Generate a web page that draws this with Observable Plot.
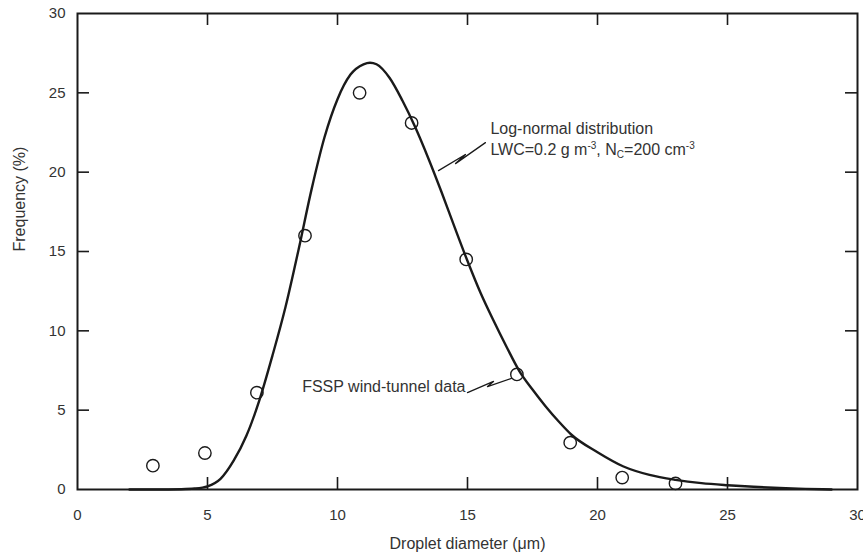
<!DOCTYPE html>
<html>
<head>
<meta charset="utf-8">
<script src="https://cdn.jsdelivr.net/npm/d3@7"></script>
<script src="https://cdn.jsdelivr.net/npm/@observablehq/plot@0.6"></script>
<style>
  html, body { margin: 0; padding: 0; background: #fff; }
  #chart svg { display: block; }
</style>
</head>
<body>
<div id="chart"></div>
<script>
// FSSP wind-tunnel data (circles)
const dataDiameter = [2.9, 4.9, 6.9, 8.75, 10.85, 12.85, 14.95, 16.9, 18.95, 20.95, 23.0];
const dataFrequency = [1.5, 2.3, 6.1, 16.0, 25.0, 23.1, 14.5, 7.25, 2.95, 0.75, 0.38];

// Log-normal distribution curve
const curveDiameter = [2, 3, 4, 4.5, 5, 5.5, 6, 6.5, 7, 7.5, 8, 8.5, 9, 9.5, 10, 10.5, 11, 11.25, 11.5, 12, 12.5, 13, 13.5, 14, 14.5, 15, 15.5, 16, 16.5, 17, 17.5, 18, 18.5, 19, 20, 21, 22, 23, 24, 25, 26, 27, 28, 29];
const curveFrequency = [0, 0, 0.02, 0.06, 0.2, 0.67, 1.8, 3.4, 5.65, 8.45, 11.5, 15.1, 18.9, 22.2, 24.6, 26.15, 26.8, 26.9, 26.8, 25.95, 24.5, 22.8, 20.85, 18.75, 16.55, 14.4, 12.4, 10.65, 9.0, 7.45, 6.3, 5.25, 4.3, 3.45, 2.35, 1.45, 0.92, 0.61, 0.4, 0.27, 0.17, 0.09, 0.04, 0.0];

// Axis ticks
const tickLabels = [0, 5, 10, 15, 20, 25, 30];
const innerTicks = [5, 10, 15, 20, 25];

// Annotations
const lognormLabel1 = "Log-normal distribution";
const lognormLabel2 = "LWC=0.2 g m-3, NC=200 cm-3";
const lognormAnchor = [15.88, 22.73, 21.41]; // x, y line 1, y line 2
const lognormLeaderX = [13.885, 14.92, 14.54, 15.69];
const lognormLeaderY = [20.10, 21.11, 20.54, 21.86];
const fsspLabel = "FSSP wind-tunnel data";
const fsspAnchor = [8.64, 6.49];
const fsspLeaderX = [15.0, 16.0, 15.77, 16.69];
const fsspLeaderY = [6.11, 6.81, 6.49, 7.0];

const xLabel = "Droplet diameter (μm)";
const yLabel = "Frequency (%)";

const points = dataDiameter.map((d, i) => ({x: d, y: dataFrequency[i]}));
const curve = curveDiameter.map((d, i) => ({x: d, y: curveFrequency[i]}));
const lognormLeader = lognormLeaderX.map((d, i) => ({x: d, y: lognormLeaderY[i]}));
const fsspLeader = fsspLeaderX.map((d, i) => ({x: d, y: fsspLeaderY[i]}));

const W = 863, H = 560;
const mL = 77, mR = 6, mT = 13, mB = 71;
const innerW = W - mL - mR, innerH = H - mT - mB;
const tickLen = 12;
const ink = "#1a1a1a";
const textInk = "#333";
const font = "'Liberation Sans', Arial, sans-serif";

const chart = Plot.plot({
  width: W,
  height: H,
  marginLeft: mL,
  marginRight: mR,
  marginTop: mT,
  marginBottom: mB,
  style: {fontFamily: font, fontSize: "15px", color: textInk, background: "#fff"},
  x: {domain: [0, 30]},
  y: {domain: [0, 30]},
  marks: [
    // inward ticks on all four sides
    Plot.ruleX(innerTicks, {x: d => d, insetTop: innerH - tickLen, stroke: ink, strokeWidth: 1.6}),
    Plot.ruleX(innerTicks, {x: d => d, insetBottom: innerH - tickLen, stroke: ink, strokeWidth: 1.6}),
    Plot.ruleY(innerTicks, {y: d => d, insetRight: innerW - tickLen, stroke: ink, strokeWidth: 1.6}),
    Plot.ruleY(innerTicks, {y: d => d, insetLeft: innerW - tickLen, stroke: ink, strokeWidth: 1.6}),
    // tick labels
    Plot.axisX(tickLabels, {anchor: "bottom", tickSize: 0, tickPadding: 20, label: null, fontSize: 15, fill: textInk}),
    Plot.axisY(tickLabels, {anchor: "left", tickSize: 0, tickPadding: 12, label: null, fontSize: 15, fill: textInk}),
    // frame
    Plot.frame({stroke: ink, strokeWidth: 2}),
    // curve
    Plot.line(curve, {x: "x", y: "y", curve: "monotone-x", stroke: ink, strokeWidth: 2.4}),
    // data circles
    Plot.dot(points, {x: "x", y: "y", r: 6.2, stroke: ink, strokeWidth: 1.4, fill: "none"}),
    // leaders
    Plot.line(lognormLeader, {x: "x", y: "y", stroke: ink, strokeWidth: 1.3}),
    Plot.line(fsspLeader, {x: "x", y: "y", stroke: ink, strokeWidth: 1.3}),
    // annotation texts
    Plot.text([lognormLabel1], {x: lognormAnchor[0], y: lognormAnchor[1], text: d => d, textAnchor: "start", fontSize: 16, fill: textInk}),
    Plot.text([lognormLabel2], {x: lognormAnchor[0], y: lognormAnchor[2], text: d => d, textAnchor: "start", fontSize: 16, fill: textInk}),
    Plot.text([fsspLabel], {x: fsspAnchor[0], y: fsspAnchor[1], text: d => d, textAnchor: "start", fontSize: 16, fill: textInk}),
    // axis titles
    Plot.text([xLabel], {frameAnchor: "bottom", dy: 59, text: d => d, fontSize: 16, fill: textInk}),
    Plot.text([yLabel], {frameAnchor: "left", dx: -58, rotate: -90, text: d => d, fontSize: 16, fill: textInk})
  ]
});

// superscripts / subscript in the LWC label
chart.querySelectorAll("text").forEach(t => {
  if (t.textContent === lognormLabel2) {
    const ns = "http://www.w3.org/2000/svg";
    t.textContent = "";
    const parts = [
      ["LWC=0.2 g m", 0, null],
      ["-3", -6, 10],
      [", N", 6, null],
      ["C", 3, 10],
      ["=200 cm", -3, null],
      ["-3", -6, 10]
    ];
    parts.forEach(([s, dy, fs]) => {
      const sp = document.createElementNS(ns, "tspan");
      sp.textContent = s;
      if (dy) sp.setAttribute("dy", dy);
      if (fs) sp.setAttribute("font-size", fs);
      t.appendChild(sp);
    });
  }
});

document.getElementById("chart").appendChild(chart);
</script>
</body>
</html>
